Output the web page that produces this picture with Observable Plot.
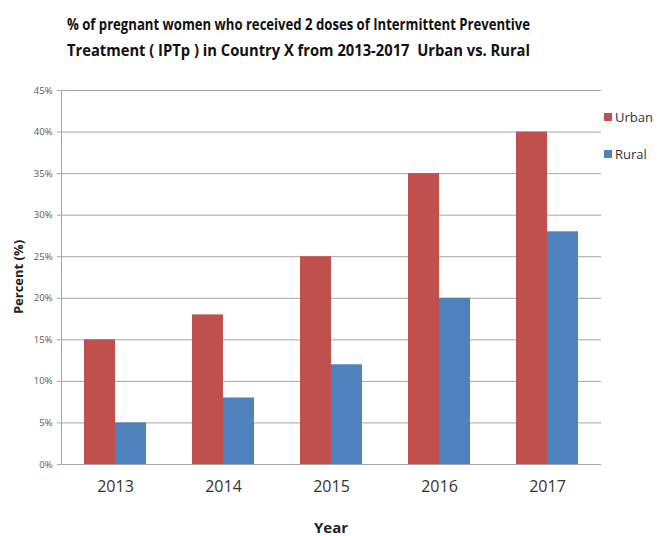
<!DOCTYPE html>
<html>
<head>
<meta charset="utf-8">
<script src="https://cdn.jsdelivr.net/npm/d3@7"></script>
<script src="https://cdn.jsdelivr.net/npm/@observablehq/plot@0.6"></script>
<style>
  body { margin: 0; background: #fff; }
  #wrap { position: relative; width: 666px; height: 536px; overflow: hidden; font-family: "Open Sans", sans-serif; }
  #title { position: absolute; left: 0; top: 0; }
  #title text { font-family: "Liberation Sans Narrow", "Open Sans", sans-serif; font-weight: bold; font-size: 16px; fill: #111; }
  #chart { position: absolute; left: 0; top: 80px; }
  #ylabel { position: absolute; left: 18px; top: 277px; transform: translate(-50%, -50%) rotate(-90deg); font-weight: bold; font-size: 13px; color: #222; white-space: nowrap; }
  #xlabel { position: absolute; left: 331px; top: 527px; transform: translate(-50%, -50%); font-weight: bold; font-size: 15px; line-height: 16px; color: #222; }
  #legend { position: absolute; left: 604px; top: 107px; font-size: 13px; color: #333; }
  #legend div { display: flex; align-items: center; height: 20px; margin-bottom: 17px; }
  #legend span.sw { width: 8px; height: 8px; margin-right: 3px; display: inline-block; }
</style>
</head>
<body>
<div id="wrap">
  <svg id="title" width="666" height="70">
    <text x="67" y="30" textLength="463" lengthAdjust="spacingAndGlyphs">% of pregnant women who received 2 doses of Intermittent Preventive</text>
    <text x="67" y="56" textLength="463" lengthAdjust="spacingAndGlyphs" xml:space="preserve">Treatment ( IPTp ) in Country X from 2013-2017  Urban vs. Rural</text>
  </svg>
  <div id="chart"></div>
  <div id="ylabel">Percent (%)</div>
  <div id="xlabel">Year</div>
  <div id="legend"></div>
</div>
<script>
// IPTp2 coverage among pregnant women, by year and residence (percent)
const years = ["2013", "2014", "2015", "2016", "2017"];
const series = ["Urban", "Rural"];
const urban = [15, 18, 25, 35, 40];
const rural = [5, 8, 12, 20, 28];
const colors = ["#C0504D", "#4F81BD"];
const yTicks = [0, 5, 10, 15, 20, 25, 30, 35, 40, 45];

const rows = years.flatMap((year, i) => [
  {year, series: "Urban", value: urban[i]},
  {year, series: "Rural", value: rural[i]}
]);

const chart = Plot.plot({
  width: 666,
  height: 456,
  marginTop: 10,
  marginBottom: 72,
  marginLeft: 60,
  marginRight: 64,
  style: {fontFamily: "Open Sans, sans-serif", background: "white"},
  fx: {domain: years, padding: 0, label: null},
  x: {domain: series, paddingInner: 0, paddingOuter: 0.74, axis: null},
  y: {domain: [0, 45], label: null},
  color: {domain: series, range: colors},
  marks: [
    Plot.gridY(yTicks, {stroke: "#a6a6a6", strokeOpacity: 1}),
    Plot.barY(rows, {fx: "year", x: "series", y: "value", fill: "series"}),
    Plot.ruleY([0], {stroke: "#a6a6a6"}),
    Plot.frame({anchor: "left", facetAnchor: "left", stroke: "#a6a6a6"}),
    Plot.axisY(yTicks, {tickFormat: d => d + "%", tickSize: 4, tickPadding: 5, fontSize: 9.5, color: "#595959", stroke: "#a6a6a6", label: null}),
    Plot.axisFx({anchor: "bottom", tickSize: 0, tickPadding: 16, fontSize: 16, color: "#333", label: null})
  ]
});
document.getElementById("chart").append(chart);

const legend = document.getElementById("legend");
series.forEach((s, i) => {
  const row = document.createElement("div");
  row.innerHTML = `<span class="sw" style="background:${colors[i]}"></span>${s}`;
  legend.append(row);
});
</script>
</body>
</html>
